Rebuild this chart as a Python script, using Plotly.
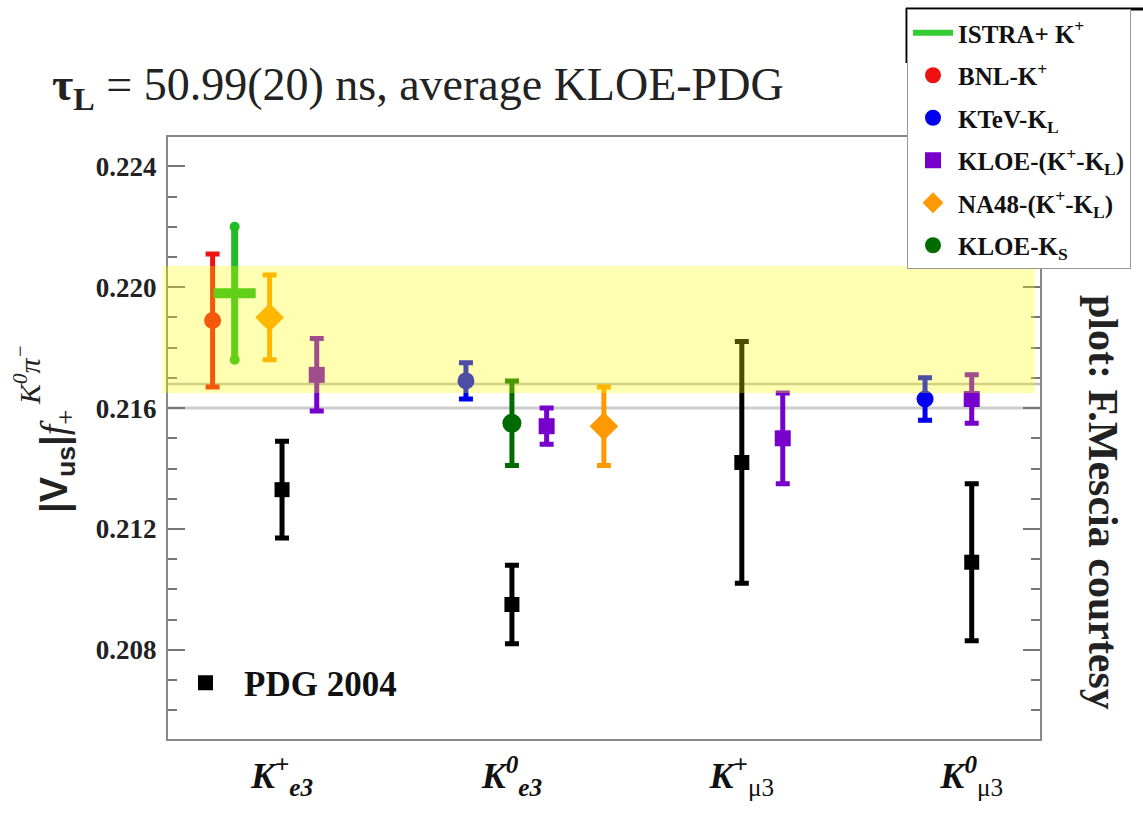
import plotly.graph_objects as go

# ---- data -----------------------------------------------------------------
categories = ["K+e3", "K0e3", "K+mu3", "K0mu3"]
category_labels = [
    "<b><i>K</i><sup>+</sup><sub><i>e3</i></sub></b>",
    "<b><i>K<sup>0</sup></i><sub><i>e3</i></sub></b>",
    "<b><i>K</i><sup>+</sup></b><sub>μ3</sub>",
    "<b><i>K<sup>0</sup></i></b><sub>μ3</sub>",
]
y_ticks = [0.208, 0.212, 0.216, 0.220, 0.224]

# measurements: category index, central value, symmetric error
bnl_cat, bnl_val, bnl_err = [0], [0.2189], [0.0022]
istra_cat, istra_val, istra_err = [0], [0.2198], [0.0022]
na48_cat, na48_val, na48_err = [0, 1], [0.2190, 0.2154], [0.0014, 0.0013]
kloe_cat = [0, 1, 2, 3]
kloe_val = [0.2171, 0.2154, 0.2150, 0.2163]
kloe_err = [0.0012, 0.0006, 0.0015, 0.0008]
ktev_cat, ktev_val, ktev_err = [1, 3], [0.2169, 0.2163], [0.0006, 0.0007]
kloeks_cat, kloeks_val, kloeks_err = [1], [0.2155], [0.0014]
pdg_cat = [0, 1, 2, 3]
pdg_val = [0.2133, 0.2095, 0.2142, 0.2109]
pdg_err = [0.0016, 0.0013, 0.0040, 0.0026]

# average band and reference lines
band_low, band_high = 0.2165, 0.2207
band_line = 0.2168
ref_line = 0.2160

# ---- layout helpers ---------------------------------------------------------
# horizontal shift of each experiment inside a category group
shift = {
    "bnl": [-0.302],
    "istra": [-0.206],
    "na48": [-0.054, 0.40],
    "kloe": [0.151, 0.151, 0.178, 0.0],
    "ktev": [-0.200, -0.203],
    "kloeks": [0.0],
    "pdg": [0.0, 0.0, 0.0, 0.0],
}

W, H = 1143, 815
L, R, T, B = 168, 1040, 137, 739


def px_x(x):
    return (x - L) / (R - L)


def px_y(y):
    return (B - y) / (B - T)


def xpos(cats, key):
    return [c + 1 + s for c, s in zip(cats, shift[key])]


SERIF = "Liberation Serif"
fig = go.Figure()


def add_series(key, name, cats, vals, errs, color, symbol, size, rank, cap=7,
               thick=5, legend="legend", showlegend=True):
    fig.add_trace(go.Scatter(
        x=xpos(cats, key), y=vals, mode="markers", name=name,
        marker=dict(symbol=symbol, size=size, color=color,
                    line=dict(width=0)),
        error_y=dict(type="data", array=errs, visible=True, color=color,
                     thickness=thick, width=cap),
        legend=legend, legendrank=rank, legendgroup=key,
        showlegend=showlegend,
    ))


add_series("pdg", "PDG 2004", pdg_cat, pdg_val, pdg_err, "#000000",
           "square", 15, 10, legend="legend2")
add_series("bnl", "BNL-K<sup>+</sup>", bnl_cat, bnl_val, bnl_err,
           "#ee1111", "circle", 17, 2)
add_series("ktev", "KTeV-K<sub>L</sub>", ktev_cat, ktev_val, ktev_err,
           "#0000ee", "circle", 17, 3)
add_series("kloe", "KLOE-(K<sup>+</sup>-K<sub>L</sub>)", kloe_cat, kloe_val,
           kloe_err, "#7700cc", "square", 16, 4)
add_series("na48", "NA48-(K<sup>+</sup>-K<sub>L</sub>)", na48_cat, na48_val,
           na48_err, "#ff9900", "diamond", 22, 5)
add_series("kloeks", "KLOE-K<sub>S</sub>", kloeks_cat, kloeks_val,
           kloeks_err, "#006b00", "circle", 19, 6)

# ISTRA+ : thick horizontal bar with round ends on the error bar
ISTRA_GREEN = "#22bb22"
fig.add_trace(go.Scatter(
    x=xpos(istra_cat, "istra"), y=istra_val, mode="markers",
    marker=dict(symbol="line-ew", size=30,
                line=dict(width=10, color=ISTRA_GREEN)),
    error_y=dict(type="data", array=istra_err, visible=True,
                 color=ISTRA_GREEN, thickness=7, width=0),
    showlegend=False,
))
istra_x = xpos(istra_cat, "istra")
fig.add_trace(go.Scatter(
    x=istra_x * 2,
    y=[v + e for v, e in zip(istra_val, istra_err)]
      + [v - e for v, e in zip(istra_val, istra_err)],
    mode="markers", marker=dict(symbol="circle", size=10, color=ISTRA_GREEN),
    showlegend=False,
))
fig.add_trace(go.Scatter(
    x=[None], y=[None], mode="lines", name="ISTRA+ K<sup>+</sup>",
    line=dict(color="#33cc33", width=6), legend="legend", legendrank=1,
    legendgroup="istra",
))

shapes = [
    dict(type="line", xref="paper", x0=0, x1=1, yref="y", y0=ref_line,
         y1=ref_line, line=dict(color="#cccccc", width=3), layer="below"),
    dict(type="line", xref="paper", x0=0, x1=1, yref="y", y0=band_line,
         y1=band_line, line=dict(color="#bdbdbd", width=2.5), layer="below"),
    dict(type="rect", xref="paper", x0=-0.006, x1=0.994, yref="y",
         y0=band_low, y1=band_high, fillcolor="rgba(255,255,0,0.3)",
         line=dict(width=0), layer="above"),
    # black frame around the legend head
    dict(type="line", xref="paper", yref="paper", x0=px_x(906),
         x1=px_x(1150), y0=px_y(9), y1=px_y(9),
         line=dict(color="#000000", width=3)),
    dict(type="line", xref="paper", yref="paper", x0=px_x(907),
         x1=px_x(907), y0=px_y(8), y1=px_y(63),
         line=dict(color="#000000", width=3)),
]

annotations = [
    dict(xref="paper", yref="paper", x=px_x(50), y=px_y(88),
         xanchor="left", yanchor="middle", showarrow=False,
         text="<b>τ<sub>L</sub></b> = 50.99(20) ns, average KLOE-PDG",
         font=dict(family=SERIF, size=46, color="#222222")),
    dict(xref="paper", yref="paper", x=px_x(1103), y=px_y(502),
         xanchor="center", yanchor="middle", showarrow=False, textangle=90,
         text="<b>plot: F.Mescia courtesy</b>",
         font=dict(family=SERIF, size=42, color="#222222")),
    dict(xref="paper", yref="paper", x=px_x(57), y=px_y(462),
         xanchor="center", yanchor="middle", showarrow=False, textangle=-90,
         text="<span style='font-family:Liberation Sans'><b>|V<sub>us</sub>|"
              "</b></span><i>f</i><sub>+</sub>",
         font=dict(family=SERIF, size=38, color="#222222")),
    dict(xref="paper", yref="paper", x=px_x(27), y=px_y(375),
         xanchor="center", yanchor="middle", showarrow=False, textangle=-90,
         text="<i>K<sup>0</sup>π<sup>−</sup></i>",
         font=dict(family=SERIF, size=30, color="#222222")),
]

fig.update_layout(
    width=W, height=H,
    margin=dict(l=L, r=W - R, t=T, b=H - B, autoexpand=False),
    paper_bgcolor="white", plot_bgcolor="white",
    shapes=shapes, annotations=annotations,
    xaxis=dict(
        range=[0.504, 4.297], tickmode="array", tickvals=[1, 2, 3, 4],
        ticktext=category_labels, ticks="", showgrid=False, zeroline=False,
        showline=True, mirror=True, linecolor="#888888", linewidth=2,
        tickfont=dict(family=SERIF, size=36, color="#111111"),
        ticklabelstandoff=4,
    ),
    yaxis=dict(
        range=[0.20505, 0.22497], tickmode="array", tickvals=y_ticks,
        tickformat=".3f", ticks="inside", ticklen=17, tickwidth=1.5,
        tickcolor="#777777", showgrid=False, zeroline=False,
        showline=True, mirror="ticks", linecolor="#888888", linewidth=2,
        minor=dict(dtick=0.001, tick0=0.208, ticks="inside", ticklen=9,
                   tickwidth=1.5, tickcolor="#777777", showgrid=False),
        tickfont=dict(family=SERIF, size=27, color="#222222",
                      weight="bold"),
        ticklabelstandoff=4,
    ),
    legend=dict(
        x=px_x(907), y=px_y(9), xanchor="left", yanchor="top",
        bgcolor="white", bordercolor="#999999", borderwidth=1,
        font=dict(family=SERIF, size=25, color="#111111", weight="bold"),
        tracegroupgap=7, itemwidth=40,
    ),
    legend2=dict(
        x=px_x(167), y=px_y(683), xanchor="left", yanchor="middle",
        bgcolor="rgba(0,0,0,0)", borderwidth=0, itemwidth=67,
        font=dict(family=SERIF, size=35, color="#111111", weight="bold"),
    ),
)

fig.write_html("out.html")
